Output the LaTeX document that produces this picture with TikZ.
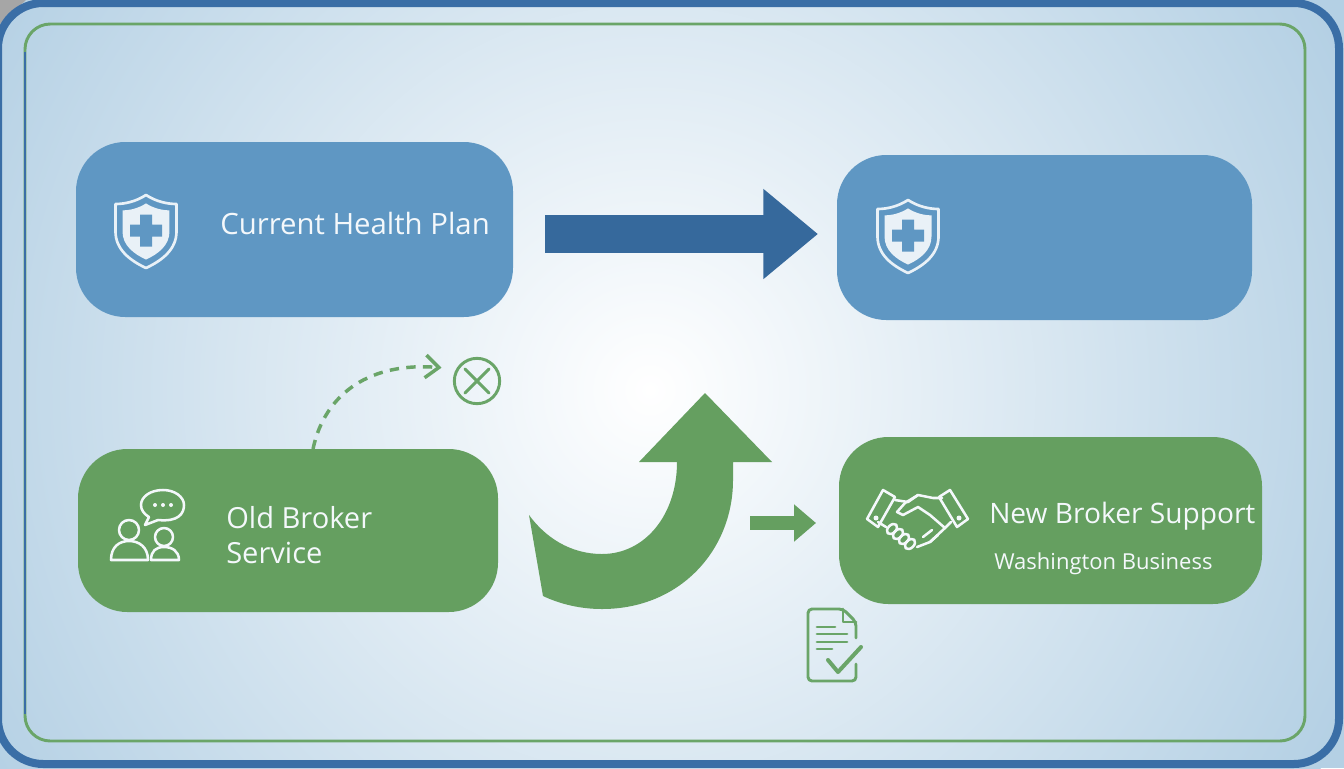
\documentclass[tikz,border=0pt]{standalone}
\usepackage{fontspec}
\setmainfont{Open Sans}
\usetikzlibrary{arrows.meta,positioning}

\definecolor{planblue}{HTML}{5F97C3}
\definecolor{flowblue}{HTML}{36699C}
\definecolor{frameblue}{HTML}{3A6EA6}
\definecolor{brokergreen}{HTML}{659F60}
\definecolor{linegreen}{HTML}{6AA568}
\definecolor{edgeblue}{HTML}{B4D0E4}
\definecolor{labelwhite}{HTML}{F4F8FB}
\definecolor{shieldwhite}{HTML}{E9F1F7}

\newcommand{\shieldpath}{(0,-36.5) .. controls (-10,-30) and (-21,-27.5) .. (-30.5,-27.5) -- (-30.5,0)
  .. controls (-30.5,18) and (-16,29) .. (0,36.5) .. controls (16,29) and (30.5,18) .. (30.5,0)
  -- (30.5,-27.5) .. controls (21,-27.5) and (10,-30) .. (0,-36.5) -- cycle}

\begin{document}
\begin{tikzpicture}[
  x=0.75pt,
  y=-0.75pt,
  line join=round,
  box/.style={
    rectangle,
    rounded corners=37pt,
    inner sep=0pt,
    outer sep=0pt
  },
  planbox/.style={box, fill=planblue},
  brokerbox/.style={box, fill=brokergreen},
  boxlabel/.style={
    anchor=west,
    align=left,
    inner sep=0pt,
    text=labelwhite,
    font=\fontsize{22}{26.25}\selectfont
  },
  newlabelstyle/.style={boxlabel, font=\fontsize{21.1}{26}\selectfont},
  oldlabelstyle/.style={boxlabel, font=\fontsize{21.8}{26.25}\selectfont},
  smalllabel/.style={boxlabel, font=\fontsize{16.5}{20}\selectfont},
  iconline/.style={draw=labelwhite, line width=1.9pt, line cap=round},
  docline/.style={draw=linegreen, line width=2.2pt, line cap=round},
  flowline/.style={flowblue, line width=28.5pt, -{Triangle[length=41pt,width=65pt]}},
  stepline/.style={brokergreen, line width=11pt, -{Triangle[length=16.5pt,width=27pt]}},
  shieldicon/.pic={
    \draw[shieldwhite, line width=2pt] \shieldpath;
    \fill[shieldwhite, scale=0.77] \shieldpath;
    \fill[planblue] (-16,-7) -- (-6,-7) -- (-6,-17) -- (6,-17) -- (6,-7) -- (16,-7) -- (16,5)
      -- (6,5) -- (6,15) -- (-6,15) -- (-6,5) -- (-16,5) -- cycle;
  }
]
\useasboundingbox (0,0) rectangle (1344,768);

\fill[edgeblue] (0,0) rectangle (1344,768);
\begin{scope}
  \clip (0,0) rectangle (1344,768);
  \shade[inner color=white, outer color=edgeblue] (650,390) circle (770);
\end{scope}
\fill[black!35] (0,0) -- (26,0) -- (0,24) -- cycle;

% Frames
\draw[frameblue, line width=6pt, rounded corners=34pt] (-2,3) rectangle (1339,764);
\draw[linegreen, line width=2.2pt, rounded corners=19pt] (25,24) rectangle (1305,741);
\draw[frameblue, line width=2.2pt] (25,52) -- (25,714);

% Boxes
\node[planbox, minimum width=327.75pt, minimum height=131.25pt] (currentplan) at (294.5,229.5) {};
\node[planbox, minimum width=311.25pt, minimum height=123.75pt] (newplan) at (1044.5,237.5) {};
\node[brokerbox, minimum width=315pt, minimum height=122.25pt] (oldbroker) at (288,530.5) {};
\node[brokerbox, minimum width=317.25pt, minimum height=125.25pt] (newbroker) at (1050.5,520.5) {};

% Labels
\node[boxlabel] (currentlabel) at (220,223) {Current Health Plan};
\node[oldlabelstyle] (oldlabel) at (226,535) {Old Broker\\Service};
\node[newlabelstyle] (newlabel) at (989,516) {New Broker Support};
\node[smalllabel] (bizlabel) at (994,564) {Washington Business};

% Icons
\pic at (146,231.5) {shieldicon};
\pic at (908,236.5) {shieldicon};

\draw[iconline] (129,530) circle (10);
\draw[iconline] (164,537) circle (9);
\draw[iconline] (111,560) .. controls (111,547) and (119,541) .. (129,541)
  .. controls (139,541) and (148,547) .. (148,560) -- cycle;
\draw[iconline] (151,560) .. controls (151,551) and (156,547) .. (164,547)
  .. controls (172,547) and (179,551) .. (179,560) -- cycle;
\draw[iconline] (158,520) .. controls (178,522) and (184,514) .. (184,505)
  .. controls (184,497) and (175,490) .. (163,490)
  .. controls (150,490) and (141,497) .. (141,505)
  .. controls (141,510) and (144,514) .. (149,517) -- (145,525) -- cycle;
\foreach \dotx in {155,163,171}
  \fill[labelwhite] (\dotx,505) circle (2);

\draw[iconline] (883,490) -- (895,497) -- (878,527) -- (867,519) -- cycle;
\draw[iconline] (950,490) -- (939,497) -- (957,527) -- (968,519) -- cycle;
\fill[labelwhite] (876,518) circle (2.5);
\fill[labelwhite] (959,518) circle (2.5);
\draw[iconline] (895,500) -- (908,502) -- (918,495) -- (933,498) -- (942,498);
\draw[iconline] (918,495) -- (905,503) -- (897,512) -- (903,515) -- (918,507) -- (930,515)
  -- (945,528) -- (951,522);
\draw[iconline] (945,528) -- (930,542) -- (917,547);
\draw[iconline] (923,537) -- (932,530);
\draw[iconline] (930,542) -- (938,535);
\draw[iconline] (878,522) -- (886,527);
\foreach \knucklex/\knuckley in {892/529,898/534,904/539,910/544}
  \draw[iconline] (\knucklex,\knuckley) ellipse [x radius=6, y radius=4, rotate=45];

\draw[docline, rounded corners=3pt] (856,638) -- (856,622) -- (843,609) -- (808,609)
  -- (808,681) -- (856,681) -- (856,664);
\draw[docline] (843,609) -- (843,622) -- (856,622);
\draw[docline] (817,627) -- (835,627);
\draw[docline] (817,634) -- (847,634);
\draw[docline] (817,642) -- (847,642);
\draw[docline] (817,649) -- (832,649);
\draw[docline, line width=3pt] (828,660) -- (838,672) -- (861,647);

% Cross mark
\node[circle, draw=linegreen, line width=2.2pt, minimum size=34pt, inner sep=0pt] (xmark) at (477,381) {};
\draw[docline] (465,369) -- (489,393);
\draw[docline] (489,369) -- (465,393);

% Arrows
\coordinate (flowrow) at (0,234);
\coordinate (steprow) at (0,523);
\coordinate (stepstart) at (750,523);
\coordinate (dashstart) at (313,449);

\draw[flowline, shorten <=24pt, shorten >=14.25pt] (currentplan.east |- flowrow) -- (newplan.west |- flowrow);
\draw[stepline, shorten >=17.25pt] (stepstart) -- (newbroker.west |- steprow);
\draw[linegreen, line width=2.6pt, dashed, dash pattern=on 7pt off 5.5pt, shorten >=11pt,
  -{Straight Barb[length=10pt,width=17pt]}] (dashstart) .. controls (325,392) and (372,362) .. (xmark.150);

\fill[brokergreen] (705,393) -- (772,462) -- (733,462) -- (733,480)
  .. controls (733,550) and (680,609) .. (602,609)
  .. controls (580,609) and (560,604) .. (543,596)
  -- (529,515)
  .. controls (545,537) and (570,554) .. (602,554)
  .. controls (645,554) and (677,515) .. (677,462)
  -- (639,462) -- cycle;

\end{tikzpicture}
\end{document}
